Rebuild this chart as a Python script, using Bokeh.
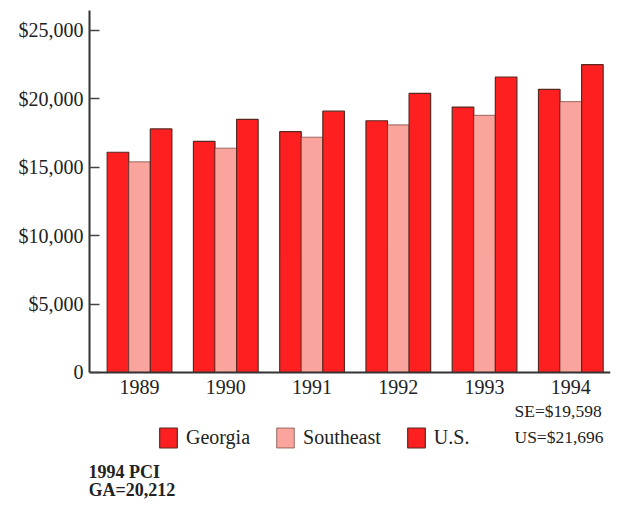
import numpy as np
from bokeh.plotting import figure
from bokeh.models import (ColumnDataSource, Range1d, FixedTicker, NumeralTickFormatter,
                          Legend, LegendItem, Label)
from bokeh.transform import dodge
from bokeh.embed import file_html
from bokeh.resources import INLINE

years = ["1989", "1990", "1991", "1992", "1993", "1994"]
georgia = [16100, 16900, 17600, 18400, 19400, 20700]
southeast = [15400, 16400, 17200, 18100, 18800, 19800]
us = [17800, 18500, 19100, 20400, 21600, 22500]
y_ticks = [0, 5000, 10000, 15000, 20000, 25000]

RED = "#fe2020"
PINK = "#f9a49c"
EDGE = "#5a2820"
FONT = "Liberation Serif"

idx = list(range(len(years)))
src = ColumnDataSource(dict(x=idx, ga=georgia, se=southeast, us=us))

Y_TOP = 26460
p = figure(width=615, height=499, output_backend="svg", toolbar_location=None,
           x_range=Range1d(-0.58, 5.46), y_range=Range1d(-9284, Y_TOP),
           min_border_left=89, min_border_right=5, min_border_top=10,
           min_border_bottom=0)
p.xgrid.grid_line_color = None
p.ygrid.grid_line_color = None
p.outline_line_color = None
p.background_fill_color = "white"

w = 0.25
r_ga = p.vbar(x=dodge("x", -0.25, range=p.x_range), top="ga", width=w, source=src,
              fill_color=RED, line_color=EDGE, line_width=1.2)
r_se = p.vbar(x=dodge("x", 0.0, range=p.x_range), top="se", width=w, source=src,
              fill_color=PINK, line_color=EDGE, line_width=1.0, line_alpha=0.6)
r_us = p.vbar(x=dodge("x", 0.25, range=p.x_range), top="us", width=w, source=src,
              fill_color=RED, line_color=EDGE, line_width=1.2)

# axes
p.xaxis.fixed_location = 0
p.xaxis.ticker = FixedTicker(ticks=idx)
p.xaxis.major_label_overrides = {i: y for i, y in enumerate(years)}
p.xaxis.major_tick_line_color = None
p.xaxis.minor_tick_line_color = None
p.xaxis.axis_line_width = 2
p.xaxis.axis_line_color = "#333333"
p.xaxis.major_label_text_font = FONT
p.xaxis.major_label_text_font_size = "20px"
p.xaxis.major_label_text_color = "#222222"
p.xaxis.major_label_standoff = 2

p.yaxis.bounds = (0, Y_TOP)
p.yaxis.ticker = FixedTicker(ticks=y_ticks)
p.yaxis.formatter = NumeralTickFormatter(format="$0,0")
p.yaxis.major_label_overrides = {0: "0"}
p.yaxis.major_tick_in = 10
p.yaxis.major_tick_out = 0
p.yaxis.major_tick_line_width = 1.5
p.yaxis.major_tick_line_color = "#444444"
p.yaxis.minor_tick_line_color = None
p.yaxis.axis_line_width = 2
p.yaxis.axis_line_color = "#333333"
p.yaxis.major_label_text_font = FONT
p.yaxis.major_label_text_font_size = "20px"
p.yaxis.major_label_text_color = "#222222"
p.yaxis.major_label_standoff = 6

legend = Legend(items=[LegendItem(label="Georgia", renderers=[r_ga]),
                       LegendItem(label="Southeast", renderers=[r_se]),
                       LegendItem(label="U.S.", renderers=[r_us])],
                orientation="horizontal", location=(68, 49),
                label_text_font=FONT, label_text_font_size="20px",
                label_text_color="#222222",
                glyph_width=22, glyph_height=25, spacing=24, label_standoff=7,
                border_line_color=None, background_fill_alpha=0,
                padding=0, margin=0)
p.add_layout(legend, "center")

for txt, x, y, sz, bold in [("SE=$19,598", 4.347, -2780, "17.5px", False),
                            ("US=$21,696", 4.347, -4680, "17.5px", False),
                            ("1994 PCI", -0.592, -7310, "18px", True),
                            ("GA=20,212", -0.592, -8560, "18px", True)]:
    p.add_layout(Label(x=x, y=y, text=txt, text_font=FONT, text_font_size=sz,
                       text_font_style="bold" if bold else "normal",
                       text_color="#222222", text_baseline="middle"))

open("out.html", "w").write(file_html(p, INLINE))
